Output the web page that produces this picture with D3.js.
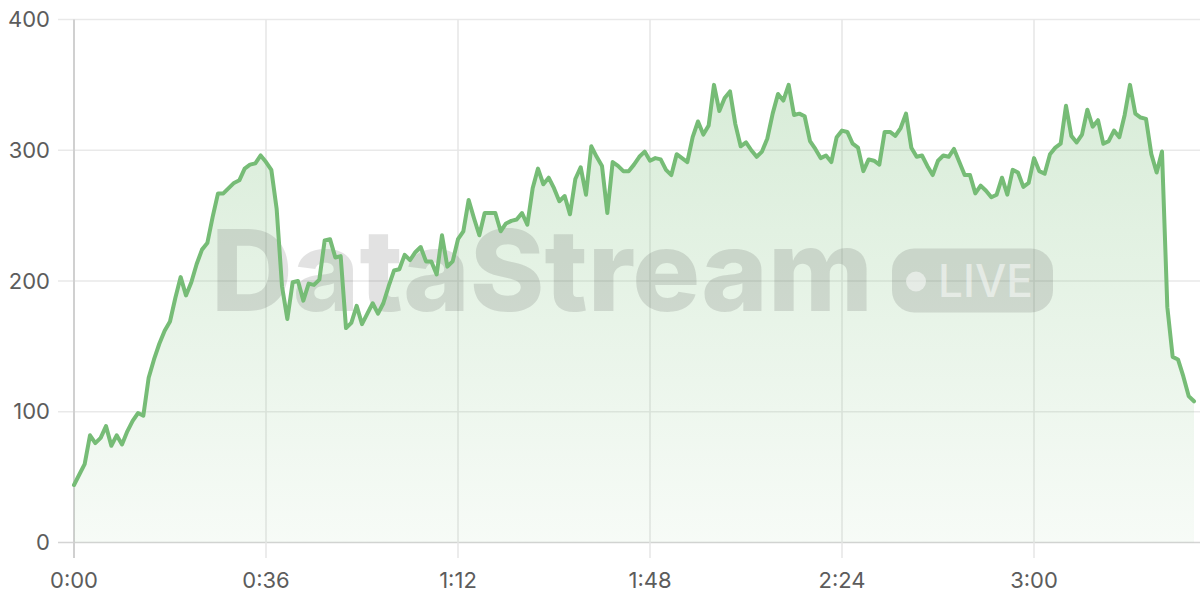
<!DOCTYPE html>
<html>
<head>
<meta charset="utf-8">
<script src="https://cdn.jsdelivr.net/npm/d3@7"></script>
<style>
  html, body { margin: 0; padding: 0; background: #fff; }
  svg { display: block; font-family: Inter, "Noto Sans", sans-serif; }
</style>
</head>
<body>
<svg id="chart" width="1200" height="600"></svg>
<script>
// one sample per second, 0:00 .. 3:30
const values = [
  44, 52, 60, 82, 76, 80, 89, 74, 82, 75,
  85, 93, 99, 97, 126, 140, 152, 162, 169, 187,
  203, 189, 199, 213, 224, 229, 249, 267, 267, 271,
  275, 277, 286, 289, 290, 296, 291, 285, 255, 196,
  171, 199, 200, 185, 198, 197, 201, 231, 232, 218,
  219, 164, 168, 181, 167, 175, 183, 175, 183, 196,
  208, 209, 220, 216, 222, 226, 215, 215, 205, 235,
  211, 215, 232, 238, 262, 248, 235, 252, 252, 252,
  238, 244, 246, 247, 252, 243, 271, 286, 274, 279,
  271, 261, 265, 251, 278, 287, 266, 303, 295, 288,
  252, 291, 288, 284, 284, 289, 295, 299, 292, 294,
  293, 285, 281, 297, 294, 291, 310, 322, 312, 319,
  350, 330, 340, 345, 320, 303, 306, 300, 295, 299,
  309, 328, 343, 338, 350, 327, 328, 326, 307, 301,
  294, 296, 291, 310, 315, 314, 305, 302, 284, 293,
  292, 289, 314, 314, 311, 317, 328, 302, 295, 296,
  288, 281, 292, 296, 295, 301, 291, 281, 281, 267,
  273, 269, 264, 266, 279, 266, 285, 283, 272, 275,
  294, 284, 282, 297, 302, 305, 334, 311, 306, 312,
  331, 318, 323, 305, 307, 315, 310, 327, 350, 328,
  325, 324, 297, 283, 299, 180, 142, 140, 127, 112,
  108
];
const xTickSeconds = [0, 36, 72, 108, 144, 180];
const xTickLabels = ['0:00', '0:36', '1:12', '1:48', '2:24', '3:00'];
const yTicks = [0, 100, 200, 300, 400];

const width = 1200;
const height = 600;
const plotLeft = 74, plotRight = 1194, plotTop = 19.5, plotBottom = 542.5;

const svg = d3.select('#chart');

const x = d3.scaleLinear()
  .domain([0, values.length - 1])
  .range([plotLeft, plotRight]);

const y = d3.scaleLinear()
  .domain([0, 400])
  .range([plotBottom, plotTop]);

// gradient for the area
const defs = svg.append('defs');
const grad = defs.append('linearGradient')
  .attr('id', 'areaFill')
  .attr('gradientUnits', 'userSpaceOnUse')
  .attr('x1', 0).attr('x2', 0)
  .attr('y1', plotTop).attr('y2', plotBottom);
grad.append('stop').attr('offset', '0%').attr('stop-color', '#78be78').attr('stop-opacity', 0.32);
grad.append('stop').attr('offset', '100%').attr('stop-color', '#78be78').attr('stop-opacity', 0.06);

// horizontal grid
svg.append('g')
  .selectAll('line')
  .data(yTicks)
  .enter()
  .append('line')
  .attr('x1', 58)
  .attr('x2', width)
  .attr('y1', d => y(d))
  .attr('y2', d => y(d))
  .style('stroke', d => d === 0 ? '#d4d4d4' : '#e9e9e9')
  .style('stroke-width', '1.5px');

// vertical grid
svg.append('g')
  .selectAll('line')
  .data(xTickSeconds.slice(1))
  .enter()
  .append('line')
  .attr('x1', d => x(d))
  .attr('x2', d => x(d))
  .attr('y1', plotTop)
  .attr('y2', 558)
  .style('stroke', '#e6e6e6')
  .style('stroke-width', '1.5px');

// y axis line
svg.append('line')
  .attr('x1', plotLeft).attr('x2', plotLeft)
  .attr('y1', plotTop).attr('y2', 558)
  .style('stroke', '#d0d0d0')
  .style('stroke-width', '2px');

// area
const area = d3.area()
  .x((d, i) => x(i))
  .y0(y(0))
  .y1(d => y(d));

svg.append('path')
  .datum(values)
  .attr('d', area)
  .style('fill', 'url(#areaFill)');

// watermark
const wm = svg.append('g').attr('class', 'watermark');
wm.append('text')
  .attr('x', 211)
  .attr('y', 311)
  .attr('textLength', 662)
  .attr('lengthAdjust', 'spacingAndGlyphs')
  .style('font-size', '113px')
  .style('font-weight', 800)
  .style('fill', 'rgba(50,50,50,0.14)')
  .text('DataStream');

wm.append('rect')
  .attr('x', 892)
  .attr('y', 248.5)
  .attr('width', 161)
  .attr('height', 64)
  .attr('rx', 22)
  .style('fill', 'rgba(50,50,50,0.14)');

wm.append('circle')
  .attr('cx', 916)
  .attr('cy', 281.5)
  .attr('r', 10)
  .style('fill', 'rgba(255,255,255,0.5)');

wm.append('text')
  .attr('x', 938)
  .attr('y', 297)
  .attr('textLength', 95)
  .attr('lengthAdjust', 'spacingAndGlyphs')
  .style('font-size', '45px')
  .style('font-weight', 500)
  .style('fill', 'rgba(255,255,255,0.5)')
  .text('LIVE');

// line
const line = d3.line()
  .x((d, i) => x(i))
  .y(d => y(d));

svg.append('path')
  .datum(values)
  .attr('d', line)
  .style('fill', 'none')
  .style('stroke', '#76bc76')
  .style('stroke-width', '4px')
  .style('stroke-linejoin', 'round')
  .style('stroke-linecap', 'round');

// y labels
svg.append('g')
  .selectAll('text')
  .data(yTicks)
  .enter()
  .append('text')
  .attr('x', 50)
  .attr('y', d => y(d))
  .attr('dy', '0.35em')
  .attr('text-anchor', 'end')
  .style('font-size', '22px')
  .style('fill', '#5c5c5c')
  .text(d => d);

// x labels
svg.append('g')
  .selectAll('text')
  .data(xTickSeconds)
  .enter()
  .append('text')
  .attr('x', d => x(d))
  .attr('y', 588)
  .attr('text-anchor', 'middle')
  .style('font-size', '22px')
  .style('fill', '#5c5c5c')
  .text((d, i) => xTickLabels[i]);
</script>
</body>
</html>
